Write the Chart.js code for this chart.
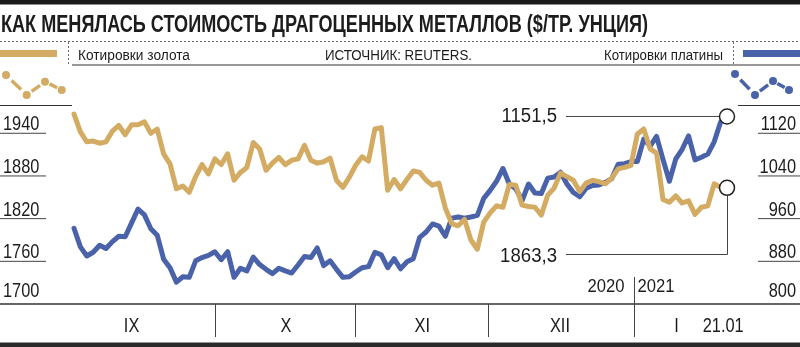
<!DOCTYPE html>
<html lang="ru">
<head>
<meta charset="UTF-8">
<title>Драгоценные металлы</title>
<script src="https://cdn.jsdelivr.net/npm/chart.js"></script>
<style>
  html, body { margin: 0; padding: 0; background: #fff; }
  canvas { display: block; }
</style>
</head>
<body>
<canvas id="grafico" width="800" height="347"></canvas>
<script>
// котировки по торговым дням, 01.09.2020 - 21.01.2021
const gold = [
  1967, 1942, 1928, 1929, 1926, 1928, 1943, 1951, 1938, 1952,
  1952, 1956, 1940, 1946, 1911, 1897, 1862, 1866, 1857, 1879,
  1896, 1883, 1904, 1896, 1911, 1874, 1885, 1892, 1927, 1918,
  1888, 1898, 1906, 1896, 1902, 1904, 1923, 1902, 1898, 1900,
  1905, 1874, 1864, 1878, 1895, 1907, 1901, 1946, 1948, 1860,
  1875, 1862, 1875, 1887, 1885, 1874, 1867, 1870, 1835, 1813,
  1810, 1819, 1790, 1777, 1815, 1828, 1838, 1836, 1868, 1867,
  1839, 1837, 1836, 1825, 1853, 1863, 1884, 1879, 1874, 1858,
  1870, 1874, 1872, 1869, 1877, 1890, 1892, 1895, 1939, 1946,
  1918, 1912, 1847, 1843, 1852, 1842, 1845, 1826, 1836, 1838,
  1869, 1864, 1863.3
];
const platinum = [
  942, 907, 890, 897, 910, 904, 917, 927, 926, 952,
  978, 967, 941, 929, 884, 868, 841, 851, 850, 881,
  887, 891, 898, 883, 898, 850, 867, 862, 888, 874,
  865, 857, 867, 862, 858, 873, 889, 887, 905, 872,
  881, 865, 850, 851, 860, 868, 870, 897, 892, 868,
  885, 866, 879, 885, 925, 935, 950, 946, 927, 961,
  963, 961, 963, 966, 998, 1013, 1030, 1054, 1025, 1016,
  994, 1025, 1008, 1007, 1036, 1038, 1047, 1025, 1009, 1001,
  1017, 1022, 1023, 1028, 1035, 1062, 1063, 1067, 1067, 1109,
  1096, 1114, 1071, 1030, 1072, 1090, 1115, 1070, 1075, 1081,
  1104, 1141, 1151.5
];

const goldTicks = [1700, 1760, 1820, 1880, 1940];
const platinumTicks = [800, 880, 960, 1040, 1120];

// месяцы: границы и подписи в номерах торговых дней
const monthEdges = [22.0, 43.9, 64.6, 87.4];
const monthLabels = ['IX', 'X', 'XI', 'XII', 'I', '21.01'];
const monthLabelPos = [9.0, 33.1, 54.4, 75.9, 94.1, 101.4];

const GOLD = '#d3ab62';
const BLUE = '#4a62a9';
const INK = '#1c1c1c';
const FONT = '"Liberation Sans", Arial, sans-serif';

function txt(ctx, s, x, y, size, align, sx, bold) {
  ctx.save();
  ctx.font = (bold ? 'bold ' : '') + size + 'px ' + FONT;
  ctx.textAlign = align;
  ctx.textBaseline = 'alphabetic';
  ctx.fillStyle = INK;
  ctx.translate(x, y);
  ctx.scale(sx, 1);
  ctx.fillText(s, 0, 0);
  ctx.restore();
}

function hline(ctx, x1, x2, y, color, w) {
  ctx.beginPath();
  ctx.strokeStyle = color;
  ctx.lineWidth = w;
  ctx.moveTo(x1, y);
  ctx.lineTo(x2, y);
  ctx.stroke();
}

function vline(ctx, x, y1, y2, color, w) {
  ctx.beginPath();
  ctx.strokeStyle = color;
  ctx.lineWidth = w;
  ctx.moveTo(x, y1);
  ctx.lineTo(x, y2);
  ctx.stroke();
}

// значок серии: точки и штрихи между ними
function icon(ctx, pts, color) {
  ctx.save();
  ctx.fillStyle = color;
  ctx.strokeStyle = color;
  ctx.lineWidth = 3.5;
  for (let i = 0; i < pts.length - 1; i++) {
    const [x1, y1] = pts[i], [x2, y2] = pts[i + 1];
    ctx.beginPath();
    ctx.moveTo(x1 + (x2 - x1) * 0.27, y1 + (y2 - y1) * 0.27);
    ctx.lineTo(x1 + (x2 - x1) * 0.73, y1 + (y2 - y1) * 0.73);
    ctx.stroke();
  }
  pts.forEach(([x, y]) => {
    ctx.beginPath();
    ctx.arc(x, y, 4, 0, Math.PI * 2);
    ctx.fill();
  });
  ctx.restore();
}

const frame = {
  id: 'frame',
  beforeDatasetsDraw(chart) {
    const ctx = chart.ctx;
    const W = chart.width;
    const x = chart.scales.x, yL = chart.scales.yL, yR = chart.scales.yR;
    const bottom = chart.chartArea.bottom;

    ctx.save();
    // шапка
    ctx.fillStyle = '#1a1a1a';
    ctx.fillRect(0, 0, W, 4.5);
    ctx.font = 'bold 23px ' + FONT;
    ctx.fillStyle = INK;
    ctx.textAlign = 'left';
    ctx.fillText('КАК МЕНЯЛАСЬ СТОИМОСТЬ ДРАГОЦЕННЫХ МЕТАЛЛОВ ($/ТР. УНЦИЯ)', 1, 31.5, 647);

    // строка легенды
    ctx.setLineDash([2, 2]);
    hline(ctx, 0, W, 41.5, '#6a6a6a', 1);
    vline(ctx, 68.5, 42, 64, '#6a6a6a', 1);
    vline(ctx, 733.5, 42, 64, '#6a6a6a', 1);
    ctx.setLineDash([]);
    ctx.fillStyle = GOLD;
    ctx.fillRect(0, 50, 57, 7);
    ctx.fillStyle = BLUE;
    ctx.fillRect(743, 50, 57, 7);
    ctx.font = '14px ' + FONT;
    ctx.fillStyle = INK;
    ctx.fillText('Котировки золота', 78, 59.5, 112);
    ctx.fillText('ИСТОЧНИК: REUTERS.', 325, 59.5, 147);
    ctx.fillText('Котировки платины', 604, 59.5, 119);
    hline(ctx, 72, W, 65, '#333', 1.2);

    icon(ctx, [[6, 75], [26.7, 95], [45, 81.7], [61.7, 90]], GOLD);
    icon(ctx, [[735, 74], [755, 95], [773, 81], [789, 90]], BLUE);
    hline(ctx, 0, 72, 105.5, '#333', 1);
    hline(ctx, 738, W, 105.5, '#333', 1);

    // шкалы слева (золото) и справа (платина)
    goldTicks.forEach((v, i) => {
      const y = yL.getPixelForValue(v);
      txt(ctx, String(v), 3, y - (i === 0 ? 7 : 3), 19.5, 'left', 0.84);
      if (i > 0) hline(ctx, 0, 46, y, '#444', 1);
    });
    platinumTicks.forEach((v, i) => {
      const y = yR.getPixelForValue(v);
      txt(ctx, String(v), 796, y - (i === 0 ? 7 : 3), 19.5, 'right', 0.84);
      if (i > 0) hline(ctx, 758, W, y, '#444', 1);
    });

    // ось времени
    hline(ctx, 0, W, bottom, '#333', 1.5);
    monthEdges.forEach((m, i) => {
      const px = Math.round(x.getPixelForValue(m)) + 0.5;
      vline(ctx, px, i === 3 ? 277 : bottom, 337, '#444', 1);
    });
    monthLabels.forEach((m, i) => {
      txt(ctx, m, x.getPixelForValue(monthLabelPos[i]), 331.5, 20, 'center', 0.82);
    });
    const yearX = x.getPixelForValue(monthEdges[3]);
    txt(ctx, '2020', yearX - 9, 292, 18.5, 'right', 0.9);
    txt(ctx, '2021', yearX + 4, 292, 18.5, 'left', 0.9);

    ctx.fillStyle = '#2a2a2a';
    ctx.fillRect(0, 342.5, W, 4.5);
    ctx.restore();
  },
  afterDatasetsDraw(chart) {
    const ctx = chart.ctx;
    const x = chart.scales.x, yL = chart.scales.yL, yR = chart.scales.yR;
    const last = gold.length - 1;
    const px = x.getPixelForValue(last);
    const gy = yL.getPixelForValue(gold[last]);
    const py = yR.getPixelForValue(platinum[last]);
    const r = 7.5;

    ctx.save();
    // выноски с последними значениями
    hline(ctx, 566, px - r, py, '#444', 1);
    txt(ctx, String(platinum[last]).replace('.', ','), 557, 121.5, 20, 'right', 0.93);
    ctx.beginPath();
    ctx.strokeStyle = '#444';
    ctx.lineWidth = 1;
    ctx.moveTo(566, 254.5);
    ctx.lineTo(px + 0.5, 254.5);
    ctx.lineTo(px + 0.5, gy + r);
    ctx.stroke();
    txt(ctx, String(gold[last]).replace('.', ','), 557, 262, 20, 'right', 0.93);

    [[px, py], [px, gy]].forEach(([cx, cy]) => {
      ctx.beginPath();
      ctx.arc(cx, cy, r, 0, Math.PI * 2);
      ctx.fillStyle = '#fff';
      ctx.fill();
      ctx.strokeStyle = '#222';
      ctx.lineWidth = 1.5;
      ctx.stroke();
    });
    ctx.restore();
  }
};

new Chart(document.getElementById('grafico'), {
  type: 'line',
  data: {
    datasets: [
      {
        label: 'Котировки золота',
        data: gold.map((v, i) => ({ x: i, y: v })),
        yAxisID: 'yL',
        borderColor: GOLD,
        borderWidth: 5,
        pointRadius: 0,
        tension: 0,
        borderJoinStyle: 'round',
        borderCapStyle: 'round',
        clip: false
      },
      {
        label: 'Котировки платины',
        data: platinum.map((v, i) => ({ x: i, y: v })),
        yAxisID: 'yR',
        borderColor: BLUE,
        borderWidth: 5,
        pointRadius: 0,
        tension: 0,
        borderJoinStyle: 'round',
        borderCapStyle: 'round',
        clip: false
      }
    ]
  },
  options: {
    responsive: false,
    animation: false,
    devicePixelRatio: 1,
    layout: { padding: { left: 74, right: 73, top: 90.6, bottom: 43 } },
    scales: {
      x: { type: 'linear', min: 0, max: gold.length - 1, display: false },
      yL: { type: 'linear', min: 1700, max: 2000, display: false },
      yR: { type: 'linear', min: 800, max: 1200, display: false }
    },
    plugins: {
      legend: { display: false },
      tooltip: { enabled: false }
    }
  },
  plugins: [frame]
});
</script>
</body>
</html>
